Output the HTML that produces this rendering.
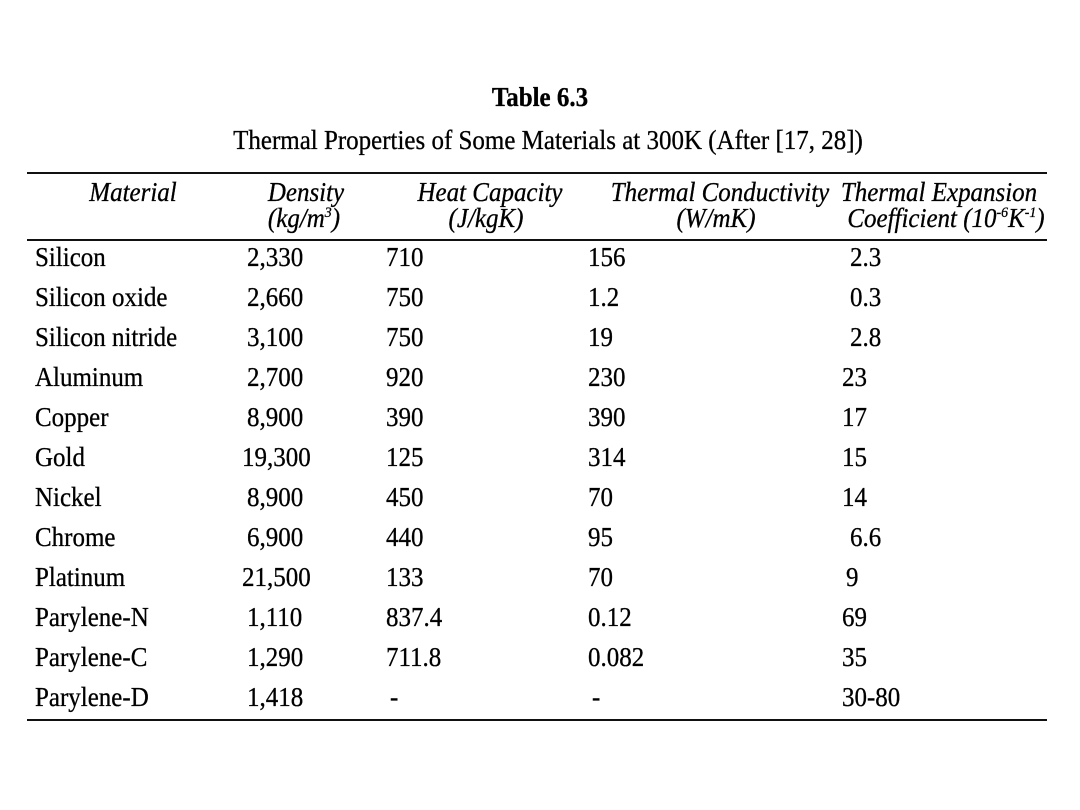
<!DOCTYPE html>
<html><head><meta charset="utf-8"><style>
body{margin:0;width:1080px;height:810px;background:#fff;position:relative;overflow:hidden;font-family:"Liberation Serif",serif;color:#000;}
.t{position:absolute;white-space:nowrap;font-size:27px;line-height:30px;transform:scaleX(0.925);transform-origin:0 50%;-webkit-text-stroke:0.3px #000;}
.c{transform:translateX(-50%) scaleX(0.925);transform-origin:50% 50%;}
.i{font-style:italic;}
.line{position:absolute;left:27px;width:1020px;height:2px;background:#111;}
sup{font-size:15px;line-height:0;}
</style></head><body>
<div class="t c" style="left:540px;top:82px;font-weight:bold;">Table 6.3</div>
<div class="t c" style="left:548px;top:125px;">Thermal Properties of Some Materials at 300K (After [17, 28])</div>
<div class="line" style="top:172px;"></div>
<div class="line" style="top:239px;"></div>
<div class="line" style="top:719px;"></div>
<div class="t c i" style="left:133px;top:177px;">Material</div>
<div class="t c i" style="left:306px;top:177px;">Density</div>
<div class="t c i" style="left:304px;top:203px;">(kg/m<sup>3</sup>)</div>
<div class="t c i" style="left:490px;top:177px;">Heat Capacity</div>
<div class="t c i" style="left:486px;top:203px;">(J/kgK)</div>
<div class="t c i" style="left:720px;top:177px;">Thermal Conductivity</div>
<div class="t c i" style="left:716px;top:203px;">(W/mK)</div>
<div class="t c i" style="left:939px;top:177px;">Thermal Expansion</div>
<div class="t c i" style="left:946px;top:203px;">Coefficient (10<sup>-6</sup>K<sup>-1</sup>)</div>

<div class="t" style="left:35px;top:242px;">Silicon</div><div class="t" style="left:247px;top:242px;">2,330</div><div class="t" style="left:386px;top:242px;">710</div><div class="t" style="left:588px;top:242px;">156</div><div class="t" style="left:850px;top:242px;">2.3</div>
<div class="t" style="left:35px;top:282px;">Silicon oxide</div><div class="t" style="left:247px;top:282px;">2,660</div><div class="t" style="left:386px;top:282px;">750</div><div class="t" style="left:588px;top:282px;">1.2</div><div class="t" style="left:850px;top:282px;">0.3</div>
<div class="t" style="left:35px;top:322px;">Silicon nitride</div><div class="t" style="left:247px;top:322px;">3,100</div><div class="t" style="left:386px;top:322px;">750</div><div class="t" style="left:588px;top:322px;">19</div><div class="t" style="left:850px;top:322px;">2.8</div>
<div class="t" style="left:35px;top:362px;">Aluminum</div><div class="t" style="left:247px;top:362px;">2,700</div><div class="t" style="left:386px;top:362px;">920</div><div class="t" style="left:588px;top:362px;">230</div><div class="t" style="left:842px;top:362px;">23</div>
<div class="t" style="left:35px;top:402px;">Copper</div><div class="t" style="left:247px;top:402px;">8,900</div><div class="t" style="left:386px;top:402px;">390</div><div class="t" style="left:588px;top:402px;">390</div><div class="t" style="left:842px;top:402px;">17</div>
<div class="t" style="left:35px;top:442px;">Gold</div><div class="t" style="left:242px;top:442px;">19,300</div><div class="t" style="left:386px;top:442px;">125</div><div class="t" style="left:588px;top:442px;">314</div><div class="t" style="left:842px;top:442px;">15</div>
<div class="t" style="left:35px;top:482px;">Nickel</div><div class="t" style="left:247px;top:482px;">8,900</div><div class="t" style="left:386px;top:482px;">450</div><div class="t" style="left:588px;top:482px;">70</div><div class="t" style="left:842px;top:482px;">14</div>
<div class="t" style="left:35px;top:522px;">Chrome</div><div class="t" style="left:247px;top:522px;">6,900</div><div class="t" style="left:386px;top:522px;">440</div><div class="t" style="left:588px;top:522px;">95</div><div class="t" style="left:850px;top:522px;">6.6</div>
<div class="t" style="left:35px;top:562px;">Platinum</div><div class="t" style="left:242px;top:562px;">21,500</div><div class="t" style="left:386px;top:562px;">133</div><div class="t" style="left:588px;top:562px;">70</div><div class="t" style="left:846px;top:562px;">9</div>
<div class="t" style="left:35px;top:602px;">Parylene-N</div><div class="t" style="left:247px;top:602px;">1,110</div><div class="t" style="left:386px;top:602px;">837.4</div><div class="t" style="left:588px;top:602px;">0.12</div><div class="t" style="left:842px;top:602px;">69</div>
<div class="t" style="left:35px;top:642px;">Parylene-C</div><div class="t" style="left:247px;top:642px;">1,290</div><div class="t" style="left:386px;top:642px;">711.8</div><div class="t" style="left:588px;top:642px;">0.082</div><div class="t" style="left:842px;top:642px;">35</div>
<div class="t" style="left:35px;top:682px;">Parylene-D</div><div class="t" style="left:247px;top:682px;">1,418</div><div class="t" style="left:390px;top:682px;">-</div><div class="t" style="left:592px;top:682px;">-</div><div class="t" style="left:842px;top:682px;">30-80</div>
</body></html>
